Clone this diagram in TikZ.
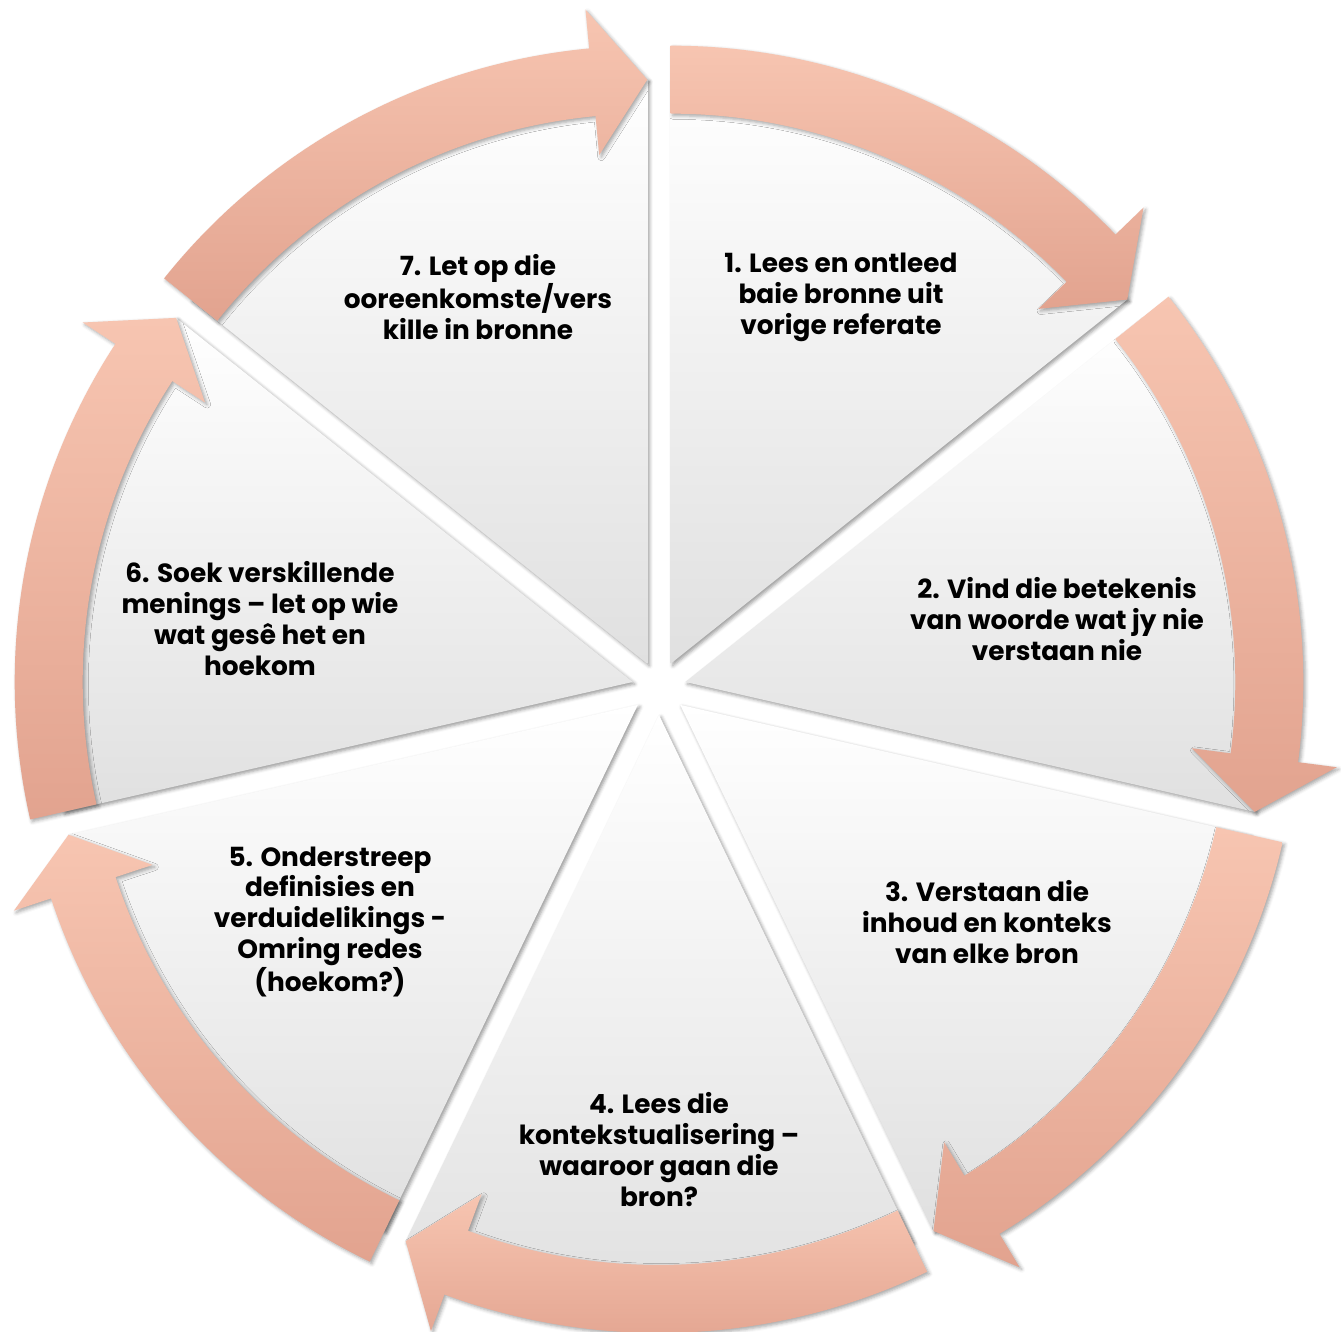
\documentclass[tikz,border=0pt]{standalone}
\usepackage{fontspec}
\setmainfont{Poppins}
\usetikzlibrary{calc,shadows.blur}
\definecolor{arrTop}{HTML}{F7C5B1}
\definecolor{arrBot}{HTML}{E2A38F}
\definecolor{slcBot}{HTML}{E0E0E0}
\tikzset{
  slicebox/.style={top color=white, bottom color=slcBot,
    blur shadow={shadow xshift=1.2pt, shadow yshift=-1.2pt, shadow blur radius=2pt, shadow opacity=40}},
  arrowband/.style={top color=arrTop, bottom color=arrBot,
    blur shadow={shadow xshift=1.2pt, shadow yshift=-1.2pt, shadow blur radius=2pt, shadow opacity=35}},
  steptext/.style={align=center, inner sep=0pt, text=black,
    font=\fontsize{15pt}{17.6pt}\selectfont\bfseries}
}
\begin{document}
\begin{tikzpicture}[x=0.02cm,y=0.02cm]
\useasboundingbox (0,0) rectangle (1341,1331);
\def\al{51.428571}
\def\R{584}
\def\w{34}
\def\h{73}
\def\hd{5.4}
\def\dd{27}
\coordinate (O) at (659,643);
% slices
\foreach \i in {1,...,7}{
  \pgfmathsetmacro\s{90-(\i-1)*\al}
  \pgfmathsetmacro\e{\s-\al}
  \pgfmathsetmacro\m{\s-\al/2}
  \coordinate (c\i) at ($(O)+(\m:\dd)$);
  \begin{scope}[shift={(c\i)}]
    \path[slicebox] (0,0) -- (\s:\R) arc[start angle=\s, end angle=\e, radius=\R] -- cycle;
  \end{scope}
}
% arrows
\foreach \i in {1,...,7}{
  \pgfmathsetmacro\s{90-(\i-1)*\al}
  \pgfmathsetmacro\e{\s-\al}
  \pgfmathsetmacro\eh{\e+\hd}
  \pgfmathsetmacro\Ro{\R+\w}
  \pgfmathsetmacro\Ri{\R-\w}
  \pgfmathsetmacro\Rho{\R+\h}
  \pgfmathsetmacro\Rhi{\R-\h}
  \begin{scope}[shift={(c\i)}]
    \path[arrowband] (\s:\Ro) arc[start angle=\s, end angle=\eh, radius=\Ro]
      -- (\eh:\Rho) -- (\e:\R) -- (\eh:\Rhi) -- (\eh:\Ri)
      arc[start angle=\eh, end angle=\s, radius=\Ri] -- cycle;
  \end{scope}
}
% texts
\node[steptext] (t1) at (841,1034) {1. Lees en ontleed\\baie bronne uit\\vorige referate};
\node[steptext] (t2) at (1057,712) {2. Vind die betekenis\\van woorde wat jy nie\\verstaan nie};
\node[steptext] (t3) at (987,409) {3. Verstaan die\\inhoud en konteks\\van elke bron};
\node[steptext] (t4) at (659,181.5) {4. Lees die\\kontekstualisering –\\waaroor gaan die\\bron?};
\node[steptext] (t5) at (330,409) {5. Onderstreep\\definisies en\\verduidelikings -\\Omring redes\\(hoekom?)};
\node[steptext] (t6) at (260,712.5) {6. Soek verskillende\\menings – let op wie\\wat gesê het en\\hoekom};
\node[steptext] (t7) at (478,1034) {7. Let op die\\ooreenkomste/vers\\kille in bronne};
\end{tikzpicture}
\end{document}
